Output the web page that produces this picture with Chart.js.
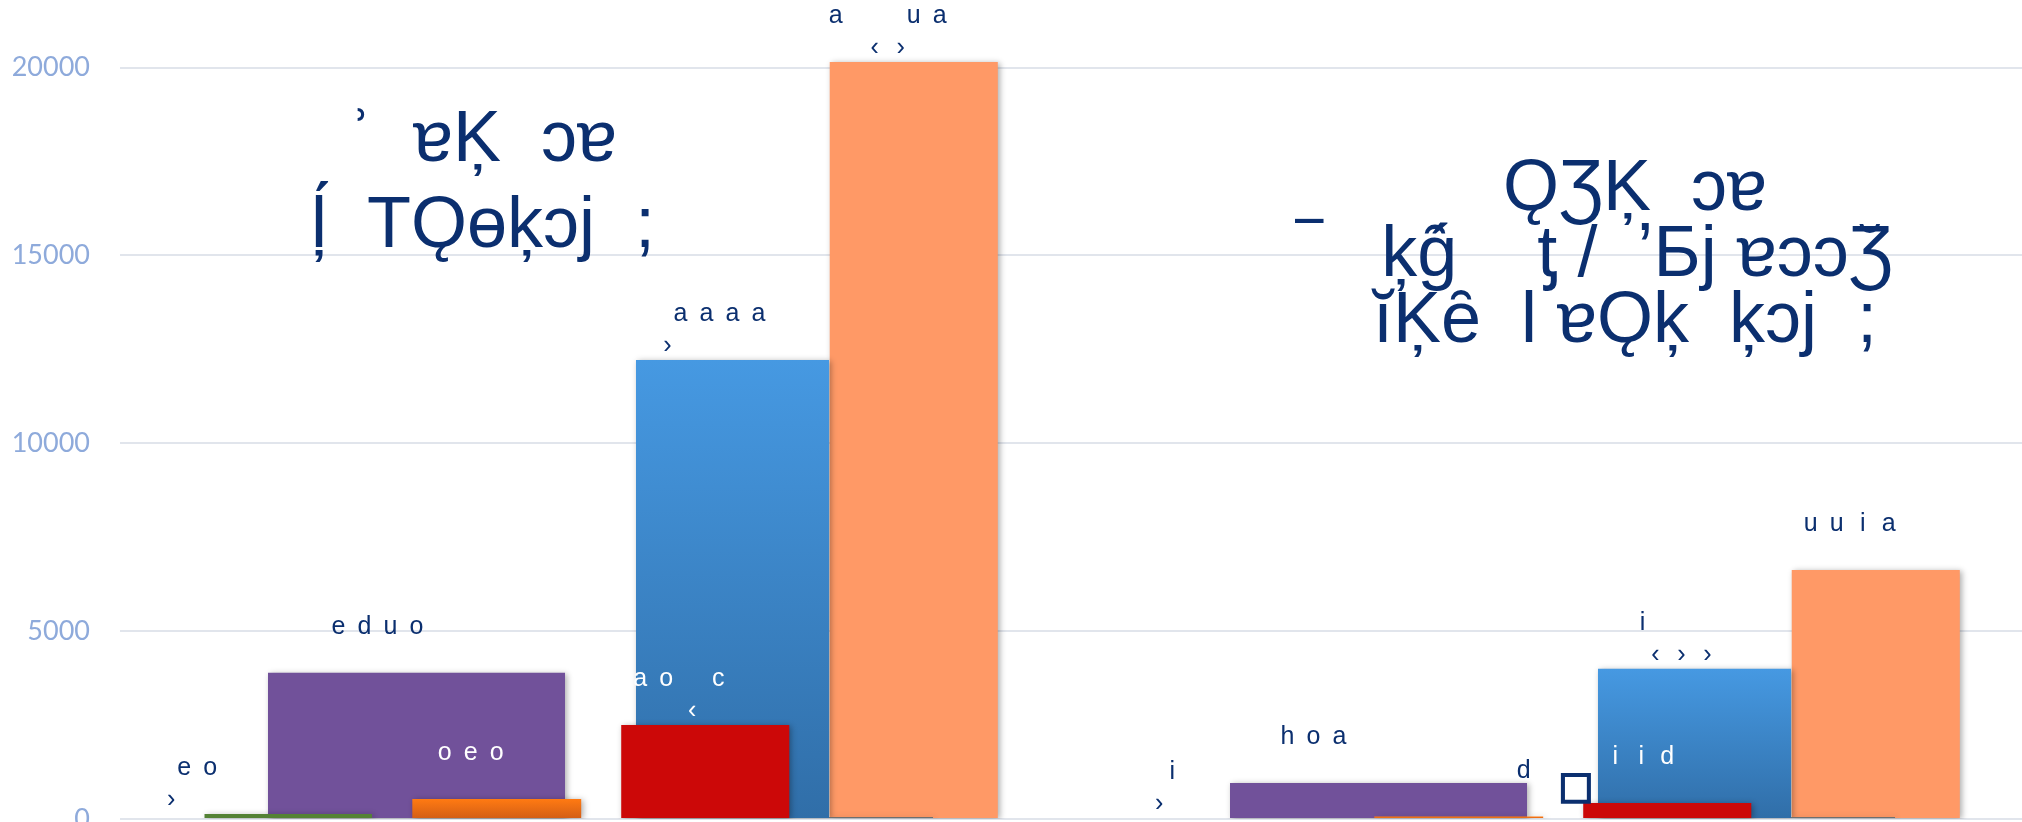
<!DOCTYPE html>
<html>
<head>
<meta charset="utf-8">
<style>
  html, body { margin: 0; padding: 0; background: #ffffff; overflow: hidden; width: 2022px; height: 822px; }
  #wrap { position: relative; width: 2044px; height: 822px; }
</style>
<script src="https://cdn.jsdelivr.net/npm/chart.js@4.4.1/dist/chart.umd.min.js"></script>
</head>
<body>
<div id="wrap"><canvas id="chart"></canvas></div>
<script>
// ---------------- data ----------------
const categories = [
  ["ʾ  ɐĶ  ɔɐ", "ļ́  TǪɵķɔj  ;"],
  ["ǪƷĶ  ɔɐ", "‾   ķǵ̑    ƫ /  ʼБj ɐɔɔƷ̆    ", "ĭĶȇ  l ɐǪķ  ķɔj  ; "]
];
const seriesNames = ["S1", "S2", "S3", "S4", "S5", "S6", "S7"];
const greenValues  = [130, 25];
const orangeValues = [530, 65];
const redValues    = [2500, 425];
const grayValues   = [50, 50];
const purpleValues = [3890, 960];
const blueValues   = [12220, 4000];
const salmonValues = [20150, 6630];
const yTickValues  = [0, 5000, 10000, 15000, 20000];

// value labels (two lines per bar, blanks are spaces)
const greenLabels  = [["eo       ", "›         "], ["i      ", "›       "]];
const orangeLabels = [["oeo  ", ""], ["     d", ""]];
const redLabels    = [["ao c  ", "  ‹   "], ["iid  ", "□       "]];
const grayLabels   = [["", ""], ["", ""]];
const purpleLabels = [["eduo   ", ""], ["hoa     ", ""]];
const blueLabels   = [["aaaa ", "›     "], ["i    ", "‹›› "]];
const salmonLabels = [["a  ua  ", " ‹›   "], ["uuia  ", ""]];

// ---------------- style ----------------
const NAVY = '#0b2f6f';
const CELL = 26;

function vGrad(topColor, bottomColor) {
  return function (c) {
    const chart = c.chart;
    const ys = chart.scales && chart.scales.y;
    if (!chart.chartArea || !ys || c.type !== 'data') return topColor;
    const y0 = ys.getPixelForValue(c.raw);
    const y1 = ys.getPixelForValue(0);
    if (!isFinite(y0) || !isFinite(y1) || Math.abs(y1 - y0) < 0.5) return topColor;
    const g = chart.ctx.createLinearGradient(0, y0, 0, y1);
    g.addColorStop(0, topColor);
    g.addColorStop(1, bottomColor);
    return g;
  };
}

const datasets = [
  { label: seriesNames[0], data: greenValues,  valueLabels: greenLabels,  stack: 'A',
    backgroundColor: '#548235', categoryPercentage: 0.867, barPercentage: 0.803 },
  { label: seriesNames[1], data: orangeValues, valueLabels: orangeLabels, stack: 'B',
    backgroundColor: vGrad('#ff7a12', '#d25d16'), categoryPercentage: 0.867, barPercentage: 0.81 },
  { label: seriesNames[2], data: redValues,    valueLabels: redLabels,    stack: 'C',
    backgroundColor: '#cc0808', categoryPercentage: 0.867, barPercentage: 0.806 },
  { label: seriesNames[3], data: grayValues,   valueLabels: grayLabels,   stack: 'D',
    backgroundColor: '#6e6e6e', categoryPercentage: 0.7762, barPercentage: 0.557 },
  { label: seriesNames[4], data: purpleValues, valueLabels: purpleLabels, stack: 'A',
    backgroundColor: '#71519a', categoryPercentage: 0.5114, barPercentage: 2.415 },
  { label: seriesNames[5], data: blueValues,   valueLabels: blueLabels,   stack: 'D',
    backgroundColor: vGrad('#4699e2', '#306ea8'), categoryPercentage: 0.3645, barPercentage: 2.2017 },
  { label: seriesNames[6], data: salmonValues, valueLabels: salmonLabels, stack: 'D',
    backgroundColor: '#ff9966', categoryPercentage: 0.867, barPercentage: 0.806 }
];

const TITLE_FONT = '72px "Liberation Sans Narrow", "Liberation Sans", "DejaVu Sans", sans-serif';
const titleLayout = [
  { dx: -118, firstBaseline: 161, lineHeight: 86 },
  { dx: 72,   firstBaseline: 210, lineHeight: 66 }
];

const decorPlugin = {
  id: 'decor',
  beforeDatasetsDraw(chart) {
    const ctx = chart.ctx;
    const xs = chart.scales.x;
    ctx.save();
    ctx.font = TITLE_FONT;
    ctx.fillStyle = NAVY;
    ctx.textAlign = 'center';
    ctx.textBaseline = 'alphabetic';
    categories.forEach((lines, j) => {
      const lay = titleLayout[j];
      const cx = xs.getPixelForValue(j) + lay.dx;
      lines.forEach((s, k) => ctx.fillText(s, cx, lay.firstBaseline + k * lay.lineHeight));
    });
    ctx.restore();
    // soft shadow for bars
    ctx.save();
    ctx.shadowColor = 'rgba(0,0,0,0.32)';
    ctx.shadowBlur = 6;
    ctx.shadowOffsetX = 2;
    ctx.shadowOffsetY = 1;
  },
  afterDatasetsDraw(chart) {
    const ctx = chart.ctx;
    ctx.restore();
    const rects = [];
    chart.getSortedVisibleDatasetMetas().forEach(m => {
      m.data.forEach(el => {
        const p = el.getProps(['x', 'y', 'base', 'width'], true);
        rects.push({ l: p.x - p.width / 2, r: p.x + p.width / 2,
                     t: Math.min(p.y, p.base), b: Math.max(p.y, p.base) });
      });
    });
    ctx.save();
    ctx.textAlign = 'center';
    ctx.textBaseline = 'alphabetic';
    chart.data.datasets.forEach((ds, di) => {
      const meta = chart.getDatasetMeta(di);
      meta.data.forEach((el, j) => {
        const lines = ds.valueLabels && ds.valueLabels[j];
        if (!lines) return;
        const p = el.getProps(['x', 'y'], true);
        lines.forEach((s, li) => {
          const chars = Array.from(s);
          const n = chars.length;
          const by = p.y - 39 + li * 32;
          chars.forEach((ch, k) => {
            if (ch === ' ') return;
            const gx = p.x + (k - (n - 1) / 2) * CELL;
            const gy = by - 7;
            const inside = rects.some(b => gx >= b.l && gx <= b.r && gy >= b.t && gy <= b.b);
            const col = inside ? '#ffffff' : NAVY;
            ctx.fillStyle = col;
            if (ch === '□') {
              ctx.font = 'bold 37px "DejaVu Sans", sans-serif';
              ctx.fillText(ch, gx, by + 2);
              ctx.strokeStyle = col;
              ctx.lineWidth = 2;
              ctx.strokeText(ch, gx, by + 2);
            } else {
              ctx.font = '25px "Liberation Sans", Arial, sans-serif';
              ctx.fillText(ch, gx, by);
            }
          });
        });
      });
    });
    ctx.restore();
  }
};

new Chart(document.getElementById('chart'), {
  type: 'bar',
  data: { labels: categories, datasets },
  options: {
    responsive: true,
    maintainAspectRatio: false,
    animation: false,
    devicePixelRatio: 1,
    layout: { padding: { top: 0, bottom: 3, left: 0, right: 0 } },
    plugins: { legend: { display: false }, tooltip: { enabled: false }, title: { display: false } },
    datasets: { bar: { borderWidth: 0 } },
    scales: {
      x: { display: false, grid: { display: false } },
      y: {
        stacked: false,
        min: 0,
        max: 21800,
        border: { display: false },
        grid: { color: '#e1e5ec', lineWidth: 2, drawTicks: false },
        ticks: {
          color: '#8eaadb',
          padding: 30,
          font: { family: 'Lato', size: 27 },
          callback: (v) => String(v)
        },
        afterBuildTicks(scale) {
          scale.ticks = yTickValues.map(v => ({ value: v }));
        },
        afterFit(scale) {
          scale.width = 120;
          scale.paddingTop = 0;
          scale.paddingBottom = 0;
        }
      }
    }
  },
  plugins: [decorPlugin]
});
</script>
</body>
</html>
